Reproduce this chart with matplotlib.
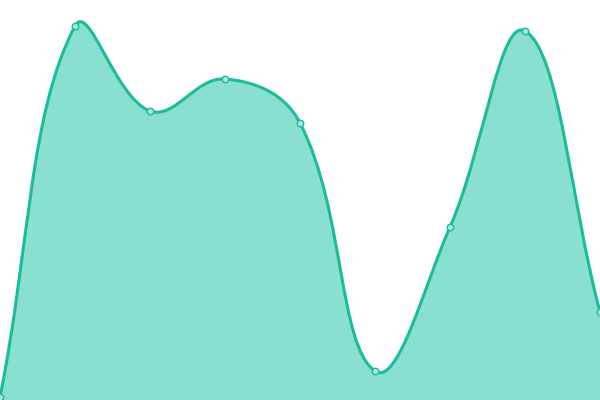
import numpy as np
import matplotlib
matplotlib.use("Agg")
import matplotlib.pyplot as plt
from matplotlib.path import Path
from matplotlib.patches import PathPatch

# data (0..400 scale)
labels = list(range(9))
values = [3, 374, 289, 321, 277, 29, 173, 369, 88]

line_color = "#1abc9c"
fill_color = "#8ae0cf"

W, H = 600, 400
ymax = 400
xs = np.linspace(0, W, len(values))
ys = np.array(values, dtype=float) * H / ymax


def spline_controls(xs, ys, t=0.4):
    # chart.js style spline control points
    n = len(xs)
    ctrl = []
    for i in range(n):
        p0 = np.array([xs[max(i - 1, 0)], ys[max(i - 1, 0)]])
        p1 = np.array([xs[i], ys[i]])
        p2 = np.array([xs[min(i + 1, n - 1)], ys[min(i + 1, n - 1)]])
        d01 = np.hypot(*(p1 - p0))
        d12 = np.hypot(*(p2 - p1))
        tot = d01 + d12
        s01 = d01 / tot if tot else 0
        s12 = d12 / tot if tot else 0
        prev = p1 - t * s01 * (p2 - p0)
        nxt = p1 + t * s12 * (p2 - p0)
        prev = np.clip(prev, [0, 0], [W, H])
        nxt = np.clip(nxt, [0, 0], [W, H])
        ctrl.append((prev, nxt))
    return ctrl


ctrl = spline_controls(xs, ys)
verts = [(xs[0], ys[0])]
codes = [Path.MOVETO]
for i in range(1, len(xs)):
    verts += [tuple(ctrl[i - 1][1]), tuple(ctrl[i][0]), (xs[i], ys[i])]
    codes += [Path.CURVE4] * 3

fill_verts = verts + [(xs[-1], 0), (xs[0], 0), (xs[0], ys[0])]
fill_codes = codes + [Path.LINETO, Path.LINETO, Path.CLOSEPOLY]

fig = plt.figure(figsize=(6, 4), dpi=100)
ax = fig.add_axes([0, 0, 1, 1])
ax.add_patch(PathPatch(Path(fill_verts, fill_codes), facecolor=fill_color,
                       edgecolor="none", zorder=1))
ax.add_patch(PathPatch(Path(verts, codes), facecolor="none",
                       edgecolor=line_color, linewidth=2.2, zorder=2))
ax.scatter(xs, ys, s=22, facecolor="#a9e8dc", edgecolor=line_color,
           linewidth=1, zorder=3, clip_on=False)
ax.set_xlim(0, W)
ax.set_ylim(0, H)
ax.axis("off")
fig.savefig("out.png", dpi=100)
